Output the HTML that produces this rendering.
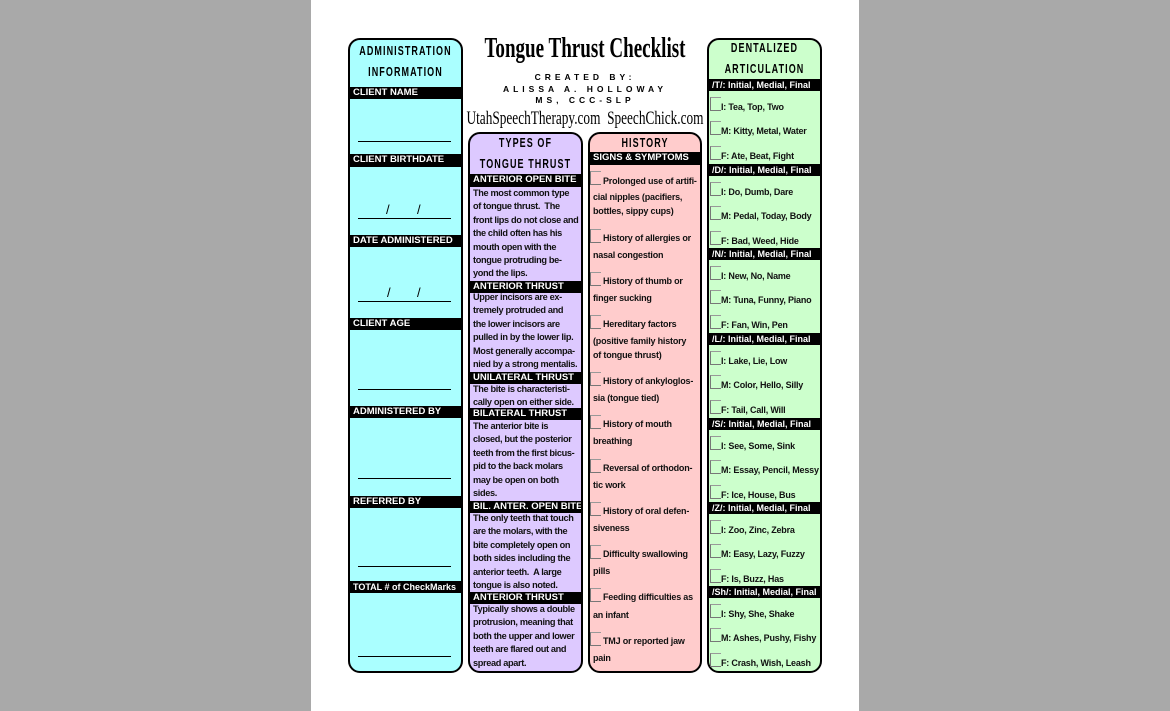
<!DOCTYPE html>
<html><head><meta charset="utf-8"><style>
*{margin:0;padding:0;box-sizing:border-box}
body{width:1170px;height:711px;background:#a9a9a9;position:relative;overflow:hidden;font-family:"Liberation Sans",sans-serif}
#pg{position:absolute;left:311px;top:0;width:548px;height:711px;background:#fff}
.col{position:absolute;border:2px solid #000;border-radius:12px;overflow:hidden}
.t{position:absolute;left:-20px;right:-20px;text-align:center;font-weight:bold;font-size:12.5px;letter-spacing:1.5px;transform:scaleX(.72);white-space:nowrap}
.bar{position:absolute;left:0;right:0;background:#000;color:#fff;font-weight:bold;font-size:9.5px;padding-left:3px;height:12px;line-height:12px;white-space:nowrap}
.ul{position:absolute;left:8px;right:10px;border-top:1.5px solid #000}
.tx{position:absolute;left:3px;font-size:9.2px;font-weight:bold;line-height:13.4px;white-space:nowrap;color:#111;letter-spacing:-0.35px}
.l{position:absolute;font-size:9px;font-weight:bold;white-space:nowrap;line-height:10px;color:#111;letter-spacing:-0.2px}
.cb{position:absolute;width:11px;height:14px;border-left:1px solid #777;border-top:1px solid #999;border-bottom:1px solid #777}
.sl{position:absolute;font-size:13px}
</style></head><body>
<div id="pg"></div>

<div class="col" style="left:348px;top:38px;width:115px;height:635px;background:#aaffff">
 <div class="t" style="top:4px">ADMINISTRATION</div>
 <div class="t" style="top:25px">INFORMATION</div>
 <div class="bar" style="top:47px">CLIENT NAME</div>
 <div class="ul" style="top:101px"></div>
 <div class="bar" style="top:114px;height:13px">CLIENT BIRTHDATE</div>
 <div class="sl" style="left:36px;top:162px">/</div><div class="sl" style="left:67px;top:162px">/</div>
 <div class="ul" style="top:178px"></div>
 <div class="bar" style="top:195px">DATE ADMINISTERED</div>
 <div class="sl" style="left:37px;top:245px">/</div><div class="sl" style="left:67px;top:245px">/</div>
 <div class="ul" style="top:261px"></div>
 <div class="bar" style="top:278px">CLIENT AGE</div>
 <div class="ul" style="top:349px"></div>
 <div class="bar" style="top:366px">ADMINISTERED BY</div>
 <div class="ul" style="top:438px"></div>
 <div class="bar" style="top:456px">REFERRED BY</div>
 <div class="ul" style="top:526px"></div>
 <div class="bar" style="top:541px;font-size:9px">TOTAL # of CheckMarks</div>
 <div class="ul" style="top:616px"></div>
</div>

<div style="position:absolute;left:420px;top:33px;width:330px;text-align:center;font-family:'Liberation Serif',serif;font-size:28px;font-weight:bold;transform:scaleX(.68);white-space:nowrap">Tongue Thrust Checklist</div>
<div style="position:absolute;left:470px;top:72px;width:230px;text-align:center;font-size:8.5px;font-weight:bold;letter-spacing:4px;line-height:11.5px">CREATED BY:<br>ALISSA A. HOLLOWAY<br>MS, CCC-SLP</div>
<div style="position:absolute;left:400px;top:108px;width:370px;text-align:center;font-family:'Liberation Serif',serif;font-size:19px;transform:scaleX(.7);white-space:nowrap">UtahSpeechTherapy.com&nbsp; SpeechChick.com</div>

<div class="col" style="left:468px;top:132px;width:115px;height:541px;background:#ddc9ff">
 <div class="t" style="top:2px">TYPES OF</div>
 <div class="t" style="top:23px">TONGUE THRUST</div>
 <div class="bar" style="top:40px;height:13px">ANTERIOR OPEN BITE</div>
 <div class="tx" style="top:53px">The most common type<br>of tongue thrust.&nbsp; The<br>front lips do not close and<br>the child often has his<br>mouth open with the<br>tongue protruding be-<br>yond the lips.</div>
 <div class="bar" style="top:147px">ANTERIOR THRUST</div>
 <div class="tx" style="top:157px">Upper incisors are ex-<br>tremely protruded and<br>the lower incisors are<br>pulled in by the lower lip.<br>Most generally accompa-<br>nied by a strong mentalis.</div>
 <div class="bar" style="top:238px">UNILATERAL THRUST</div>
 <div class="tx" style="top:249px">The bite is characteristi-<br>cally open on either side.</div>
 <div class="bar" style="top:274px">BILATERAL THRUST</div>
 <div class="tx" style="top:286px">The anterior bite is<br>closed, but the posterior<br>teeth from the first bicus-<br>pid to the back molars<br>may be open on both<br>sides.</div>
 <div class="bar" style="top:367px">BIL. ANTER. OPEN BITE</div>
 <div class="tx" style="top:378px">The only teeth that touch<br>are the molars, with the<br>bite completely open on<br>both sides including the<br>anterior teeth.&nbsp; A large<br>tongue is also noted.</div>
 <div class="bar" style="top:458px">ANTERIOR THRUST</div>
 <div class="tx" style="top:469px">Typically shows a double<br>protrusion, meaning that<br>both the upper and lower<br>teeth are flared out and<br>spread apart.</div>
</div>

<div class="col" style="left:588px;top:132px;width:114px;height:541px;background:#ffcccc">
 <div class="t" style="top:2px">HISTORY</div>
 <div class="bar" style="top:18px;height:13px">SIGNS &amp; SYMPTOMS</div>
</div>

<div class="col" style="left:707px;top:38px;width:115px;height:635px;background:#ccffcc">
 <div class="t" style="top:1px">DENTALIZED</div>
 <div class="t" style="top:22px">ARTICULATION</div>
</div>

<div id="hist"></div>
<script>
var h=[[171,[181,197,211],["Prolonged use of artifi-","cial nipples (pacifiers,","bottles, sippy cups)"]],
[229,[238,255],["History of allergies or","nasal congestion"]],
[272,[281,298],["History of thumb or","finger sucking"]],
[315,[324,341,355],["Hereditary factors","(positive family history","of tongue thrust)"]],
[372,[381,398],["History of ankyloglos-","sia (tongue tied)"]],
[415,[424,441],["History of mouth","breathing"]],
[459,[468,485],["Reversal of orthodon-","tic work"]],
[502,[511,528],["History of oral defen-","siveness"]],
[545,[554,571],["Difficulty swallowing","pills"]],
[588,[597,615],["Feeding difficulties as","an infant"]],
[632,[641,658],["TMJ or reported jaw","pain"]]];
var s="";
h.forEach(function(it){s+='<div class="cb" style="left:590px;top:'+it[0]+'px"></div>';
 it[1].forEach(function(y,i){s+='<div class="l" style="left:'+(i?593:603)+'px;top:'+(y-5)+'px">'+it[2][i]+'</div>';});});
var d=[["/T/",79,["I: Tea, Top, Two","M: Kitty, Metal, Water","F: Ate, Beat, Fight"]],
["/D/",164,["I: Do, Dumb, Dare","M: Pedal, Today, Body","F: Bad, Weed, Hide"]],
["/N/",248,["I: New, No, Name","M: Tuna, Funny, Piano","F: Fan, Win, Pen"]],
["/L/",333,["I: Lake, Lie, Low","M: Color, Hello, Silly","F: Tail, Call, Will"]],
["/S/",418,["I: See, Some, Sink","M: Essay, Pencil, Messy","F: Ice, House, Bus"]],
["/Z/",502,["I: Zoo, Zinc, Zebra","M: Easy, Lazy, Fuzzy","F: Is, Buzz, Has"]],
["/Sh/",586,["I: Shy, She, Shake","M: Ashes, Pushy, Fishy","F: Crash, Wish, Leash"]]];
d.forEach(function(g){s+='<div class="bar" style="position:absolute;left:709px;width:111px;right:auto;top:'+g[1]+'px;font-size:9px">'+g[0]+': Initial, Medial, Final</div>';
 [24,48,73].forEach(function(o,i){var y=g[1]+o;s+='<div class="cb" style="left:710px;top:'+(y-6)+'px"></div><div class="l" style="left:721px;top:'+(y-1)+'px">'+g[2][i]+'</div>';});});
document.getElementById('hist').innerHTML=s;
</script>
</body></html>
